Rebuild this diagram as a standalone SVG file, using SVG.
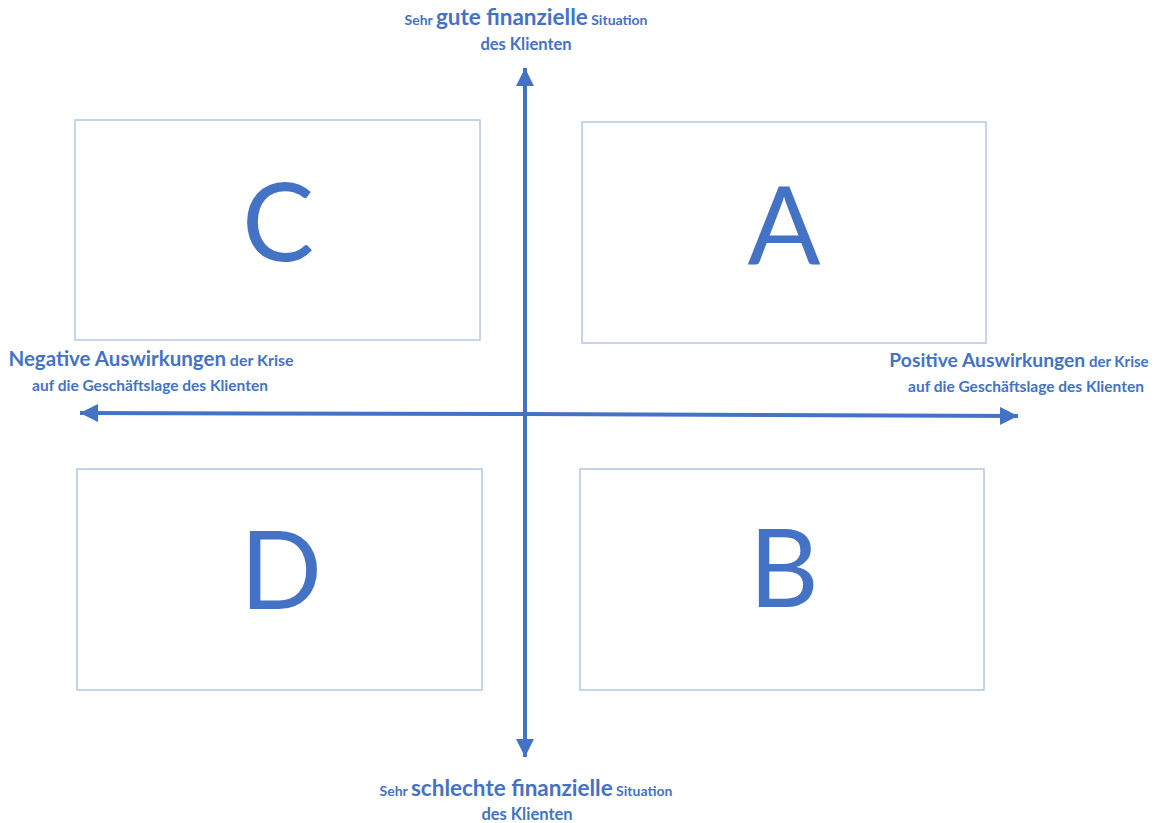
<svg xmlns="http://www.w3.org/2000/svg" width="1163" height="823" viewBox="0 0 1163 823">
<style>
.box{fill:none;stroke:#b4c6e4;stroke-width:1.5}
.big{font-family:Lato,"Liberation Sans",sans-serif;font-size:108px;fill:#4472C4;text-anchor:middle}
.lbl{font-family:Lato,"Liberation Sans",sans-serif;font-weight:bold;fill:#4472C4;text-anchor:middle}
.ts{font-size:14px}
.tl{font-size:22.5px}
.td{font-size:16.5px}
.s{font-size:16px}
.l{font-size:20.5px}
.s2{font-size:15.5px}
.rs{font-size:15px}
.rl{font-size:19.3px}
.axis{stroke:#4472C4;stroke-width:4;fill:none;marker-end:url(#ah)}
</style>
<defs>
<marker id="ah" markerUnits="userSpaceOnUse" markerWidth="20" markerHeight="18" refX="18" refY="9" orient="auto">
<path d="M0,0 L18,9 L0,18 Z" fill="#4472C4"/>
</marker>
</defs>
<rect width="1163" height="823" fill="#ffffff"/>
<g id="connectors">
<line class="axis" x1="525" y1="414" x2="80" y2="413"/>
<line class="axis" x1="525" y1="414" x2="1018" y2="416"/>
<line class="axis" x1="525" y1="414" x2="525" y2="68"/>
<line class="axis" x1="525" y1="414" x2="525" y2="757"/>
</g>
<g id="node-C"><rect class="box" x="75" y="120" width="405" height="220"/><text class="big" x="278" y="261">C</text></g>
<g id="node-A"><rect class="box" x="582" y="122" width="404" height="221"/><text class="big" x="784" y="264">A</text></g>
<g id="node-D"><rect class="box" x="77" y="469" width="405" height="221"/><text class="big" x="281" y="609">D</text></g>
<g id="node-B"><rect class="box" x="580" y="469" width="404" height="221"/><text class="big" x="784" y="607">B</text></g>
<g id="label-top">
<text class="lbl" x="526" y="25"><tspan class="ts">Sehr </tspan><tspan class="tl">gute finanzielle</tspan><tspan class="ts"> Situation</tspan></text>
<text class="lbl td" x="526" y="50">des Klienten</text>
</g>
<g id="label-bottom">
<text class="lbl" x="526" y="796"><tspan class="ts">Sehr </tspan><tspan class="tl">schlechte finanzielle</tspan><tspan class="ts"> Situation</tspan></text>
<text class="lbl td" x="527" y="820">des Klienten</text>
</g>
<g id="label-left">
<text class="lbl" x="151" y="366"><tspan class="l">Negative Auswirkungen</tspan><tspan class="s"> der Krise</tspan></text>
<text class="lbl s2" x="150" y="391">auf die Geschäftslage des Klienten</text>
</g>
<g id="label-right">
<text class="lbl" x="1019" y="367"><tspan class="rl">Positive Auswirkungen</tspan><tspan class="rs"> der Krise</tspan></text>
<text class="lbl s2" x="1026" y="392">auf die Geschäftslage des Klienten</text>
</g>
</svg>
